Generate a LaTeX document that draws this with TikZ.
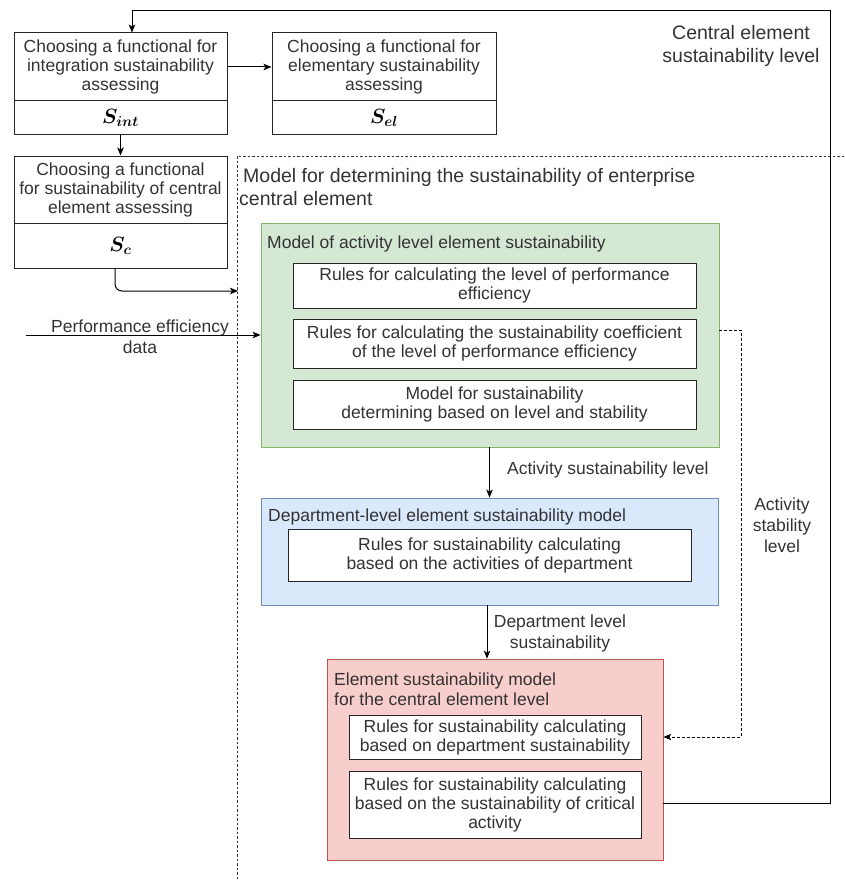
\documentclass[tikz,border=0pt]{standalone}
\usepackage{fontspec}
\setmainfont{Liberation Sans}
\usetikzlibrary{arrows.meta,calc}
\definecolor{txt}{HTML}{333333}
\definecolor{gfill}{HTML}{D5E8D4}\definecolor{gdraw}{HTML}{82B366}
\definecolor{bfill}{HTML}{DAE8FC}\definecolor{bdraw}{HTML}{6C8EBF}
\definecolor{rfill}{HTML}{F8CECC}\definecolor{rdraw}{HTML}{B85450}
\newcommand\fs{\fontsize{17.5}{19}\selectfont}
\newcommand\fm{\fontsize{17.5}{21}\selectfont}
\newcommand\fl{\fontsize{19.5}{22.5}\selectfont}
\newcommand\fmath{\fontsize{22}{24}\selectfont\boldmath}
\begin{document}
\begin{tikzpicture}[x=1pt,y=-1pt,
  box/.style={draw=black!85, line width=1pt, fill=white, inner sep=0pt, align=center, text=txt, font=\fs},
  mbox/.style={box, text=black, font=\fmath},
  gbox/.style={draw=gdraw, fill=gfill, line width=0.8pt, inner sep=0pt},
  bbox/.style={draw=bdraw, fill=bfill, line width=0.8pt, inner sep=0pt},
  rbox/.style={draw=rdraw, fill=rfill, line width=0.8pt, inner sep=0pt},
  lbl/.style={text=txt, font=\fm, align=center, inner sep=0pt},
  arr/.style={draw=black, line width=1pt, -{Stealth[length=8pt,width=6.5pt,inset=2pt]}},
  darr/.style={arr, dash pattern=on 3pt off 2pt},
  cont/.style={draw=black!80, line width=0.9pt, dash pattern=on 2.5pt off 2pt}]
\useasboundingbox (0,0) rectangle (844,880);

% left column boxes
\node[box, minimum width=213pt, minimum height=68pt] (b1top) at (120.5,67) {Choosing a functional for\\integration sustainability\\assessing};
\node[mbox, minimum width=213pt, minimum height=33pt] (b1bot) at (120.5,117.5) {$S_{int}$};
\node[box, minimum width=224pt, minimum height=68pt] (b2top) at (384,67) {Choosing a functional for\\elementary sustainability\\assessing};
\node[mbox, minimum width=224pt, minimum height=33pt] (b2bot) at (384,117.5) {$S_{el}$};
\node[box, minimum width=213pt, minimum height=67pt] (b3top) at (120.5,189.5) {Choosing a functional\\for sustainability of central\\element assessing};
\node[mbox, minimum width=213pt, minimum height=45pt] (b3bot) at (120.5,245.5) {$S_{c}$};

% dashed container
\coordinate (ctr) at (844,156);
\coordinate (ctl) at (237,156);
\coordinate (cbl) at (237,880);
\draw[cont] (ctr) -- (ctl) -- (cbl);
\node[lbl, font=\fl, align=left, anchor=west] (ctitle) at (239,187) {\hspace*{4pt}Model for determining the sustainability of enterprise\\central element};

% green model
\node[gbox, minimum width=458pt, minimum height=224pt] (green) at (490,335) {};
\node[lbl, anchor=west] (gtitle) at (267,244) {Model of activity level element sustainability};
\node[box, minimum width=403pt, minimum height=45pt] (gA) at (494.5,285.5) {Rules for calculating the level of performance\\efficiency};
\node[box, minimum width=403pt, minimum height=49pt] (gB) at (494.5,343.5) {Rules for calculating the sustainability coefficient\\of the level of performance efficiency};
\node[box, minimum width=403pt, minimum height=49pt] (gC) at (494.5,404.5) {Model for sustainability\\determining based on level and stability};

% blue model
\node[bbox, minimum width=457pt, minimum height=107pt] (blue) at (489.5,551.5) {};
\node[lbl, anchor=west] (btitle) at (268,517) {Department-level element sustainability model};
\node[box, minimum width=403pt, minimum height=52pt] (bA) at (489.5,555) {Rules for sustainability calculating\\based on the activities of department};

% red model
\node[rbox, minimum width=336pt, minimum height=201pt] (red) at (495,759.5) {};
\node[lbl, anchor=west, align=left, font=\fontsize{17.5}{20}\selectfont] (rtitle) at (334,689) {Element sustainability model\\for the central element level};
\node[box, minimum width=292pt, minimum height=44pt] (rA) at (495,737) {Rules for sustainability calculating\\based on department sustainability};
\node[box, minimum width=292pt, minimum height=67pt] (rB) at (495,804.5) {Rules for sustainability calculating\\based on the sustainability of critical\\activity};

% labels
\node[lbl, font=\fl] (celbl) at (741,46) {Central element\\sustainability level};
\node[lbl] (pelbl) at (140,336.5) {Performance efficiency\\data};
\node[lbl, anchor=west] (aslbl) at (507,470) {Activity sustainability level};
\node[lbl, fill=white, inner sep=1pt] (dllbl) at (560,633.5) {Department level\\sustainability};
\node[lbl] (astlbl) at (782,525) {Activity\\stability\\level};

% connectors
\coordinate (fbY) at (0,803);
\coordinate (fbR) at (830,803);
\coordinate (fbT) at (830,11);
\coordinate (fbL) at (132,11);
\draw[arr] (red.east |- fbY) -- (fbR) -- (fbT) -- (fbL) -- (fbL |- b1top.north);
\draw[arr] (b1top) -- (b2top);
\draw[arr] (b1bot) -- (b3top);
\coordinate (scS) at (115,268);
\coordinate (scE) at (238,291);
\draw[arr, rounded corners=7pt] (scS) -- (scS |- scE) -- (scE);
\coordinate (peS) at (26,335);
\draw[arr] (peS) -- (green.west |- peS);
\draw[arr] (green.south -| blue.north) -- (blue.north);
\coordinate (brX) at (487,0);
\draw[arr] (blue.south -| brX) -- (red.north -| brX);
\coordinate (dY) at (0,330);
\coordinate (dR) at (741,330);
\coordinate (dB) at (741,737);
\draw[darr] (green.east |- dY) -- (dR) -- (dB) -- (red.east |- dB);
\end{tikzpicture}
\end{document}
